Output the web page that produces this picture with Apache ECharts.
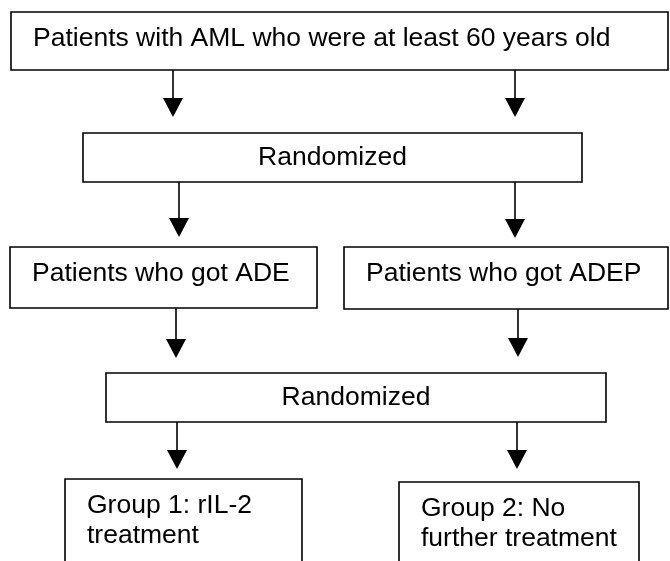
<!DOCTYPE html>
<html>
<head>
<meta charset="utf-8">
<script src="https://cdn.jsdelivr.net/npm/echarts@6/dist/echarts.min.js"></script>
<style>
  html, body { margin: 0; padding: 0; background: #fff; }
  #main { width: 670px; height: 561px; }
</style>
</head>
<body>
<div id="main"></div>
<script>
// box texts of the flow, top to bottom
var boxLabels = [
  'Patients with AML who were at least 60 years old',
  'Randomized',
  'Patients who got ADE',
  'Patients who got ADEP',
  'Randomized',
  'Group 1: rIL-2\ntreatment',
  'Group 2: No\nfurther treatment'
];
var boxAlign = ['left', 'center', 'left', 'left', 'center', 'left', 'left'];

// layout (page units): x0, y0, x1, y1
var boxLayout = [
  [11, 12, 668, 70],
  [83, 133, 582, 182],
  [10, 247, 317, 308],
  [344, 247, 668, 309],
  [106, 373, 606, 422],
  [65, 479, 302, 575],
  [399, 482, 639, 575]
];
// arrows: x, yFrom, yTo
var arrowLayout = [
  [173, 70, 117],
  [515, 70, 117],
  [179, 182, 237],
  [515, 182, 238],
  [176, 308, 358],
  [518, 309, 357],
  [177, 422, 469],
  [517, 422, 469]
];

var fontSize = 26.5;
var lineGap = 30;
var lineColor = '#000';

var myChart = echarts.init(document.getElementById('main'));

var boxData = boxLayout.map(function (b, i) {
  return { value: b, name: boxLabels[i] };
});

function renderBox(params, api) {
  var i = params.dataIndex;
  var p0 = api.coord([api.value(0), api.value(1)]);
  var p1 = api.coord([api.value(2), api.value(3)]);
  var x0 = p0[0], y0 = p0[1], x1 = p1[0], y1 = p1[1];
  var lines = boxLabels[i].split('\n');
  var children = [{
    type: 'rect',
    shape: { x: x0, y: y0, width: x1 - x0, height: y1 - y0 },
    style: { fill: '#fff', stroke: lineColor, lineWidth: 1.6 }
  }];
  var centered = boxAlign[i] === 'center';
  var tx = centered ? (x0 + x1) / 2 : x0 + 22;
  var ty = centered ? (y0 + y1) / 2 : y0 + 27;
  lines.forEach(function (t, k) {
    children.push({
      type: 'text',
      style: {
        text: t,
        x: tx,
        y: ty + k * lineGap,
        align: boxAlign[i],
        verticalAlign: 'middle',
        fill: '#000',
        font: fontSize + 'px "Liberation Sans", Arial, sans-serif'
      }
    });
  });
  return { type: 'group', children: children };
}

function renderArrow(params, api) {
  var top = api.coord([api.value(0), api.value(1)]);
  var tip = api.coord([api.value(0), api.value(2)]);
  var headH = 19, headW = 10;
  return {
    type: 'group',
    children: [{
      type: 'line',
      shape: { x1: top[0], y1: top[1], x2: tip[0], y2: tip[1] - headH + 1 },
      style: { stroke: lineColor, lineWidth: 1.6 }
    }, {
      type: 'polygon',
      shape: { points: [[tip[0] - headW, tip[1] - headH], [tip[0] + headW, tip[1] - headH], [tip[0], tip[1]]] },
      style: { fill: lineColor }
    }]
  };
}

var option = {
  animation: false,
  backgroundColor: '#fff',
  grid: { left: 0, right: 0, top: 0, bottom: 0 },
  xAxis: { type: 'value', min: 0, max: 670, show: false },
  yAxis: { type: 'value', min: 0, max: 561, inverse: true, show: false },
  series: [{
    type: 'custom',
    name: 'boxes',
    renderItem: renderBox,
    data: boxData,
    clip: true
  }, {
    type: 'custom',
    name: 'arrows',
    renderItem: renderArrow,
    data: arrowLayout,
    clip: true
  }]
};

myChart.setOption(option);
</script>
</body>
</html>
